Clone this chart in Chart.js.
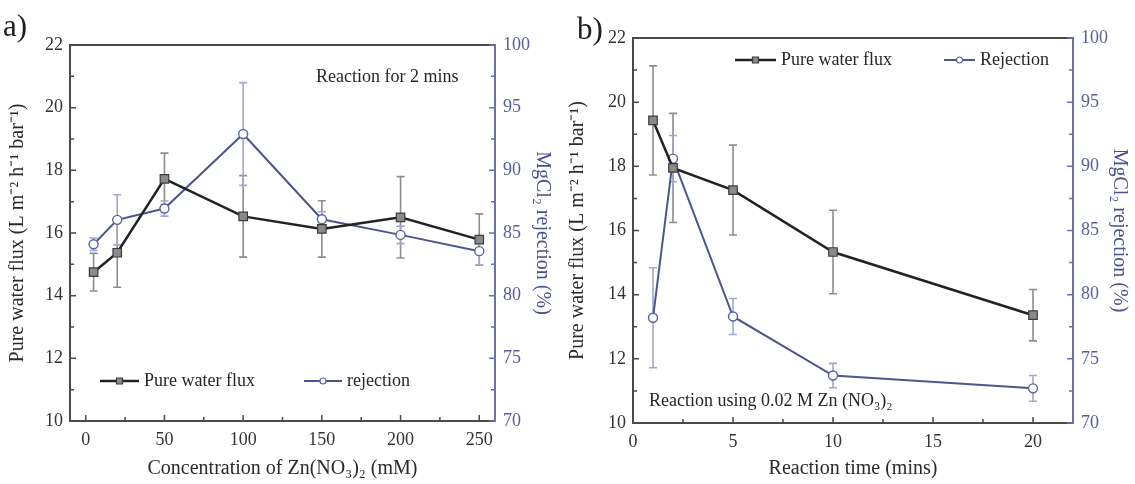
<!DOCTYPE html>
<html>
<head>
<meta charset="utf-8">
<script src="https://cdn.jsdelivr.net/npm/chart.js@4.4.0/dist/chart.umd.min.js"></script>
<style>
    html, body { margin: 0; padding: 0; background: #fff; }
    #wrap { position: relative; width: 1135px; height: 484px; overflow: hidden; }
    canvas { position: absolute; top: 0; }
    .plabel { position: absolute; font-family: "Liberation Serif", "Times New Roman", serif; font-size: 31px; color: #1e1e1e; line-height: 1; }
</style>
</head>
<body>
<div id="wrap">
    <canvas id="chartA" width="560" height="484" style="left:0"></canvas>
    <canvas id="chartB" width="575" height="484" style="left:560px"></canvas>
    <div class="plabel" style="left:3px;top:10px">a)</div>
    <div class="plabel" style="left:577px;top:13px">b)</div>
</div>
<script>
// ---- data ----
// panel a: reaction for 2 mins, varying Zn(NO3)2 concentration
const concA = [5, 20, 50, 100, 150, 200, 250];
const fluxA = [14.75, 15.37, 17.73, 16.53, 16.13, 16.5, 15.79];
const fluxErrA = [0.6, 1.1, 0.82, 1.3, 0.9, 1.3, 0.82];
const rejA = [84.1, 86.05, 86.95, 92.9, 86.1, 84.85, 83.55];
const rejErrA = [0.5, 2.0, 0.6, 4.1, 0.6, 0.7, 1.1];

// panel b: 0.02 M Zn(NO3)2, varying reaction time
const timeB = [1, 2, 5, 10, 20];
const fluxB = [19.43, 17.95, 17.26, 15.33, 13.36];
const fluxErrB = [1.7, 1.7, 1.4, 1.3, 0.8];
const rejB = [78.2, 90.6, 78.3, 73.7, 72.7];
const rejErrB = [3.9, 1.8, 1.4, 0.95, 1.0];

// tick labels
const xTicksA = [0, 50, 100, 150, 200, 250];
const xTicksB = [0, 5, 10, 15, 20];
const fluxTicks = [10, 12, 14, 16, 18, 20, 22];
const rejTicks = [70, 75, 80, 85, 90, 95, 100];

// ---- styles ----
const FONT = '"Liberation Serif", "Times New Roman", serif';
const AXIS = '#4a4a4a';
const BLUE_AXIS = '#6d6fae';
const BLACK = '#222222';
const BLUE = '#4d5590';
const BLUE_TXT = '#5a5c9e';
const FLUX_ERR = '#8e8e8e';
const REJ_ERR = '#a4a6cf';

// error bars drawn under the lines
const errorBars = {
    id: 'errorBars',
    beforeDatasetsDraw(chart) {
        const ctx = chart.ctx;
        ctx.save();
        chart.data.datasets.forEach((ds, di) => {
            if (!ds.errors) return;
            const xs = chart.scales.x;
            const ys = chart.scales[ds.yAxisID];
            ctx.strokeStyle = ds.errColor;
            ctx.lineWidth = 1.6;
            ctx.beginPath();
            ds.data.forEach((p, i) => {
                const e = ds.errors[i];
                const px = xs.getPixelForValue(p.x);
                const y1 = ys.getPixelForValue(p.y + e);
                const y2 = ys.getPixelForValue(p.y - e);
                ctx.moveTo(px, y1); ctx.lineTo(px, y2);
                ctx.moveTo(px - 4, y1); ctx.lineTo(px + 4, y1);
                ctx.moveTo(px - 4, y2); ctx.lineTo(px + 4, y2);
            });
            ctx.stroke();
        });
        ctx.restore();
    }
};

// frame + inward major/minor ticks
const frameTicks = {
    id: 'frameTicks',
    afterDraw(chart) {
        const { ctx, chartArea: a, scales } = chart;
        ctx.save();
        ctx.lineWidth = 2;
        ctx.strokeStyle = AXIS;
        ctx.beginPath();
        ctx.moveTo(a.right, a.top);
        ctx.lineTo(a.left, a.top);
        ctx.lineTo(a.left, a.bottom);
        ctx.lineTo(a.right, a.bottom);
        ctx.stroke();
        ctx.strokeStyle = BLUE_AXIS;
        ctx.beginPath();
        ctx.moveTo(a.right, a.top - 1);
        ctx.lineTo(a.right, a.bottom + 1);
        ctx.stroke();

        const marks = (scale, color, fn) => {
            const vals = scale.ticks.map(t => t.value);
            ctx.strokeStyle = color;
            ctx.lineWidth = 1.5;
            ctx.beginPath();
            vals.forEach((v, i) => {
                fn(scale.getPixelForValue(v), 6);
                if (i < vals.length - 1) fn(scale.getPixelForValue((v + vals[i + 1]) / 2), 4);
            });
            ctx.stroke();
        };
        marks(scales.x, AXIS, (p, len) => { ctx.moveTo(p, a.bottom); ctx.lineTo(p, a.bottom - len); });
        marks(scales.y, AXIS, (p, len) => { ctx.moveTo(a.left, p); ctx.lineTo(a.left + len, p); });
        marks(scales.y2, BLUE_AXIS, (p, len) => { ctx.moveTo(a.right, p); ctx.lineTo(a.right - len, p); });
        ctx.restore();
    }
};

// in-plot legend and note text
const notes = {
    id: 'notes',
    afterDraw(chart, args, opts) {
        const ctx = chart.ctx;
        ctx.save();
        ctx.font = '18px ' + FONT;
        ctx.textBaseline = 'middle';
        ctx.fillStyle = '#262626';
        ctx.fillText(opts.note.text, opts.note.x, opts.note.y);
        opts.legend.forEach(item => {
            const ds = chart.data.datasets[item.ds];
            ctx.strokeStyle = ds.borderColor;
            ctx.lineWidth = ds.borderWidth;
            ctx.beginPath();
            ctx.moveTo(item.x, item.y);
            ctx.lineTo(item.x + item.len, item.y);
            ctx.stroke();
            const cx = item.x + item.len / 2;
            ctx.fillStyle = ds.pointBackgroundColor;
            ctx.strokeStyle = ds.pointBorderColor;
            ctx.lineWidth = 1.2;
            ctx.beginPath();
            if (ds.pointStyle === 'rect') ctx.rect(cx - 3, item.y - 3, 6, 6);
            else ctx.arc(cx, item.y, 3, 0, Math.PI * 2);
            ctx.fill();
            ctx.stroke();
            ctx.fillStyle = '#262626';
            ctx.fillText(ds.label, item.x + item.len + 5, item.y);
        });
        ctx.restore();
    }
};

function buildChart(id, d) {
    const tickFont = { family: FONT, size: 18 };
    const titleFont = { family: FONT, size: 20 };
    return new Chart(document.getElementById(id), {
        type: 'line',
        data: {
            datasets: [
                {
                    label: 'Pure water flux',
                    data: d.x.map((v, i) => ({ x: v, y: d.flux[i] })),
                    errors: d.fluxErr, errColor: FLUX_ERR,
                    yAxisID: 'y',
                    borderColor: BLACK, borderWidth: 2.5,
                    pointStyle: 'rect', pointRadius: 6,
                    pointBackgroundColor: '#8a8a8a', pointBorderColor: '#3c3c3c', pointBorderWidth: 1.2,
                    tension: 0, clip: false
                },
                {
                    label: d.rejLabel,
                    data: d.x.map((v, i) => ({ x: v, y: d.rej[i] })),
                    errors: d.rejErr, errColor: REJ_ERR,
                    yAxisID: 'y2',
                    borderColor: BLUE, borderWidth: 2,
                    pointStyle: 'circle', pointRadius: 4.5,
                    pointBackgroundColor: '#ffffff', pointBorderColor: '#5a62a4', pointBorderWidth: 1.4,
                    tension: 0, clip: false
                }
            ]
        },
        options: {
            responsive: false,
            animation: false,
            events: [],
            layout: { padding: { top: d.top, left: 0, right: 0, bottom: 0 } },
            plugins: {
                legend: { display: false },
                tooltip: { enabled: false },
                notes: { note: d.note, legend: d.legend }
            },
            scales: {
                x: {
                    type: 'linear', min: d.xMin, max: d.xMax,
                    afterBuildTicks: s => { s.ticks = d.xTicks.map(v => ({ value: v })); },
                    afterFit: s => { s.height = d.xH; },
                    grid: { display: false, drawTicks: false },
                    border: { display: false },
                    ticks: { font: tickFont, color: '#333', padding: 8, maxRotation: 0 },
                    title: { display: true, text: d.xTitle, font: titleFont, color: '#2a2a2a', padding: { top: 0, bottom: 3 } }
                },
                y: {
                    position: 'left', min: 10, max: 22,
                    afterBuildTicks: s => { s.ticks = fluxTicks.map(v => ({ value: v })); },
                    afterFit: s => { s.width = d.yL; },
                    grid: { display: false, drawTicks: false },
                    border: { display: false },
                    ticks: { font: tickFont, color: '#333', padding: 7 },
                    title: { display: true, text: 'Pure water flux (L m\u207B\u00B2 h\u207B\u00B9 bar\u207B\u00B9)', font: titleFont, color: '#2a2a2a', padding: { top: 6, bottom: 0 } }
                },
                y2: {
                    position: 'right', min: 70, max: 100,
                    afterBuildTicks: s => { s.ticks = rejTicks.map(v => ({ value: v })); },
                    afterFit: s => { s.width = d.yR; },
                    grid: { display: false, drawTicks: false },
                    border: { display: false },
                    ticks: { font: tickFont, color: BLUE_TXT, padding: 8 },
                    title: { display: true, text: 'MgCl\u2082 rejection (%)', font: titleFont, color: '#4b4e90', padding: { top: d.rTitlePad, bottom: 0 } }
                }
            }
        },
        plugins: [errorBars, frameTicks, notes]
    });
}

buildChart('chartA', {
    x: concA, flux: fluxA, fluxErr: fluxErrA, rej: rejA, rejErr: rejErrA,
    rejLabel: 'rejection',
    xMin: -10, xMax: 260, xTicks: xTicksA,
    xTitle: 'Concentration of Zn(NO\u2083)\u2082 (mM)',
    top: 45, xH: 63, yL: 70, yR: 65, rTitlePad: 6,
    note: { text: 'Reaction for 2 mins', x: 316, y: 77 },
    legend: [
        { ds: 0, x: 100, y: 381, len: 39 },
        { ds: 1, x: 304, y: 381, len: 38 }
    ]
});

buildChart('chartB', {
    x: timeB, flux: fluxB, fluxErr: fluxErrB, rej: rejB, rejErr: rejErrB,
    rejLabel: 'Rejection',
    xMin: 0, xMax: 22, xTicks: xTicksB,
    xTitle: 'Reaction time (mins)',
    top: 38, xH: 61, yL: 73, yR: 62, rTitlePad: 4,
    note: { text: 'Reaction using 0.02 M Zn (NO\u2083)\u2082', x: 89, y: 401 },
    legend: [
        { ds: 0, x: 175, y: 60, len: 41 },
        { ds: 1, x: 384, y: 60, len: 31 }
    ]
});
</script>
</body>
</html>
